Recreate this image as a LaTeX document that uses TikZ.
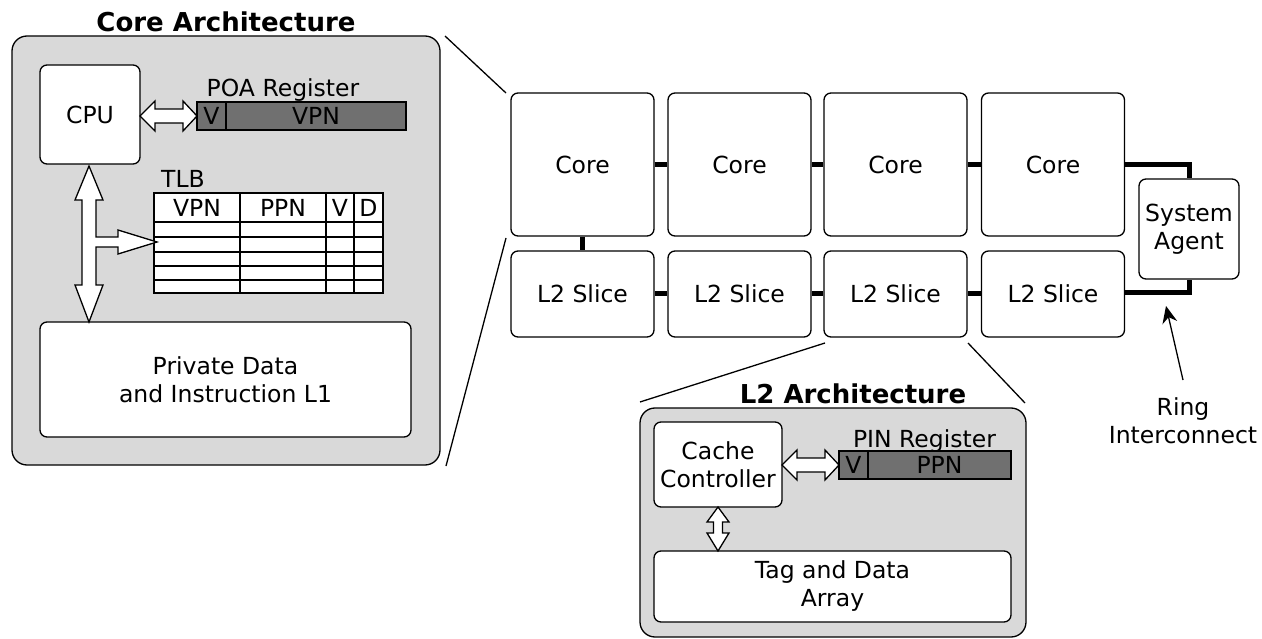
\documentclass[tikz,border=0pt]{standalone}
\usepackage{fontspec}
\setmainfont{DejaVu Sans}
\usetikzlibrary{arrows.meta}
\definecolor{panelgray}{RGB}{217,217,217}
\definecolor{reggray}{RGB}{112,112,112}
\begin{document}
\begin{tikzpicture}[x=1pt,y=-1pt,
  every node/.style={font=\fontsize{23.5}{28}\selectfont, inner sep=0pt},
  panel/.style={draw, fill=panelgray, rounded corners=15pt, line width=1.3pt},
  blk/.style={draw, fill=white, rounded corners=7pt, line width=1.3pt, align=center},
  regcell/.style={draw, fill=reggray, line width=1.3pt},
  ringlink/.style={line width=5pt},
  zoomline/.style={line width=1.3pt},
  blockarrow/.style={draw, fill=white, line width=1.3pt, line join=miter},
  titletext/.style={font=\fontsize{26}{30}\selectfont\bfseries},
  tablegrid/.style={line width=1.3pt}]
\useasboundingbox (0,0) rectangle (1262,639);

% ---------- Core architecture panel ----------
\node[panel, minimum width=428, minimum height=429] (corearch) at (226,250.5) {};
\node[titletext] (coretitle) at (226,22) {Core Architecture};
\node[blk, minimum width=100, minimum height=99] (cpu) at (90,114.5) {CPU};
\node[blk, minimum width=371, minimum height=115] (l1) at (225.5,379.5) {Private Data\\and Instruction L1};

\node[anchor=base] (poalabel) at (283,97) {POA Register};
\node[regcell, minimum width=29, minimum height=28] (poav) at (211.5,116) {V};
\node[regcell, minimum width=180, minimum height=28] (poavpn) at (316,116) {VPN};

% CPU <-> POA block arrow
\path[blockarrow] (140,116) -- (155,101) -- (155,109) -- (183,109) -- (183,101) -- (197,116)
  -- (183,131) -- (183,123) -- (155,123) -- (155,131) -- cycle;

% TLB
\node[anchor=base] (tlblabel) at (183,188) {TLB};
\node[draw, fill=white, line width=1.3pt, minimum width=229, minimum height=100] (tlb) at (268.5,243) {};
\draw[tablegrid] (240,193) -- (240,293) (326,193) -- (326,293) (354,193) -- (354,293);
\draw[line width=2.2pt] (154,222) -- (383,222);
\draw[tablegrid] (154,237) -- (383,237) (154,252) -- (383,252) (154,266) -- (383,266) (154,280) -- (383,280);
\node (hvpn) at (197,207.5) {VPN};
\node (hppn) at (283,207.5) {PPN};
\node (hv) at (340,207.5) {V};
\node (hd) at (368.5,207.5) {D};

% CPU <-> L1 with branch to TLB
\path[blockarrow] (89,166) -- (103,200) -- (96,200) -- (96,237) -- (118,237) -- (118,230)
  -- (157,242) -- (118,254) -- (118,247) -- (96,247) -- (96,285) -- (103,285) -- (89,322)
  -- (75,285) -- (82,285) -- (82,200) -- (75,200) -- cycle;

% ---------- Core / L2 grid ----------
\node[blk, minimum width=143, minimum height=143] (c1) at (582.5,164.5) {Core};
\node[blk, minimum width=143, minimum height=143] (c2) at (739.5,164.5) {Core};
\node[blk, minimum width=143, minimum height=143] (c3) at (895.5,164.5) {Core};
\node[blk, minimum width=143, minimum height=143] (c4) at (1053,164.5) {Core};
\node[blk, minimum width=143, minimum height=86] (s1) at (582.5,294) {L2 Slice};
\node[blk, minimum width=143, minimum height=86] (s2) at (739.5,294) {L2 Slice};
\node[blk, minimum width=143, minimum height=86] (s3) at (895.5,294) {L2 Slice};
\node[blk, minimum width=143, minimum height=86] (s4) at (1053,294) {L2 Slice};
\node[blk, minimum width=100, minimum height=100] (sa) at (1189,229) {System\\Agent};

\draw[ringlink] (c1) -- (c2);
\draw[ringlink] (c2) -- (c3);
\draw[ringlink] (c3) -- (c4);
\draw[ringlink] (s1) -- (s2);
\draw[ringlink] (s2) -- (s3);
\draw[ringlink] (s3) -- (s4);
\draw[ringlink] (c1) -- (s1);
\draw[ringlink] (c4.east) -| (sa.north);
\draw[ringlink] (s4.east |- 293,293) -| (sa.south);

% zoom lines
\coordinate (za1) at (445,36);
\coordinate (za2) at (506,93);
\coordinate (zb1) at (446,466);
\coordinate (zb2) at (506,238);
\draw[zoomline] (za1) -- (za2);
\draw[zoomline] (zb1) -- (zb2);
\coordinate (zc1) at (825,343);
\coordinate (zc2) at (640,402);
\coordinate (zd1) at (968,343);
\coordinate (zd2) at (1025,403);
\draw[zoomline] (zc1) -- (zc2);
\draw[zoomline] (zd1) -- (zd2);

% Ring interconnect label
\node[align=center] (ringlabel) at (1183,421) {Ring\\Interconnect};
\coordinate (ringtail) at (1183,380);
\coordinate (ringtip) at (1166,306);
\draw[line width=1.3pt, -{Stealth[length=17pt,width=15pt]}] (ringtail) -- (ringtip);

% ---------- L2 architecture panel ----------
\node[panel, minimum width=386, minimum height=229] (l2arch) at (833,522.5) {};
\node[titletext, anchor=base] (l2title) at (853,403) {L2 Architecture};
\node[blk, minimum width=128, minimum height=85] (cc) at (718,464.5) {Cache\\Controller};
\node[anchor=base] (pinlabel) at (924.5,447) {PIN Register};
\node[regcell, minimum width=29, minimum height=28] (pinv) at (853.5,465) {V};
\node[regcell, minimum width=143, minimum height=28] (pinppn) at (939.5,465) {PPN};
\node[blk, minimum width=357, minimum height=71] (tag) at (832.5,586.5) {Tag and Data\\Array};

\path[blockarrow] (782,465) -- (797,450) -- (797,458) -- (825,458) -- (825,450) -- (839,465)
  -- (825,480) -- (825,472) -- (797,472) -- (797,480) -- cycle;
\path[blockarrow] (718,507) -- (729,522) -- (722.5,522) -- (722.5,533) -- (729,533) -- (718,551)
  -- (707,533) -- (713.5,533) -- (713.5,522) -- (707,522) -- cycle;
\end{tikzpicture}
\end{document}
